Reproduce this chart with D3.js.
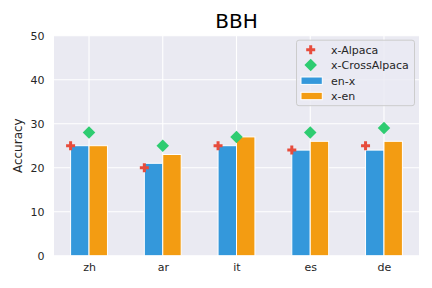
<!DOCTYPE html>
<html>
<head>
<meta charset="utf-8">
<script src="https://cdn.jsdelivr.net/npm/d3@7"></script>
<style>
  body { margin: 0; background: #fff; }
  text { font-family: "DejaVu Sans", sans-serif; fill: #262626; }
  .axis path, .axis line { display: none; }
</style>
</head>
<body>
<div id="chart"></div>
<script>
// data
var categories = ["zh", "ar", "it", "es", "de"];
var enX = [25, 21, 25, 24, 24];
var xEn = [25, 23, 27, 26, 26];
var xAlpaca = [25, 20, 25, 24, 25];
var xCrossAlpaca = [28, 25, 27, 28, 29];
var yTicks = [0, 10, 20, 30, 40, 50];

var width = 432, height = 288;
// note: "top" is a reserved window global, so use plot* names
var plotLeft = 54, plotRight = 419, plotTop = 35.7, plotBottom = 255.7;
var barW = 0.25;

var svg = d3.select("#chart").append("svg")
    .attr("width", width)
    .attr("height", height);

var x = d3.scaleLinear().domain([-0.475, 4.475]).range([plotLeft, plotRight]);
var y = d3.scaleLinear().domain([0, 50]).range([plotBottom, plotTop]);

svg.append("rect")
    .attr("x", plotLeft).attr("y", plotTop)
    .attr("width", plotRight - plotLeft).attr("height", plotBottom - plotTop)
    .attr("fill", "#eaeaf2");

// grid
svg.selectAll(".hgrid")
    .data(yTicks)
  .enter().append("line")
    .attr("x1", plotLeft).attr("x2", plotRight)
    .attr("y1", function(d) { return y(d); })
    .attr("y2", function(d) { return y(d); })
    .attr("stroke", "#fff").attr("stroke-width", 1.1);
svg.selectAll(".vgrid")
    .data(categories)
  .enter().append("line")
    .attr("x1", function(d, i) { return x(i); })
    .attr("x2", function(d, i) { return x(i); })
    .attr("y1", plotTop).attr("y2", plotBottom)
    .attr("stroke", "#fff").attr("stroke-width", 1.1);

// bars
function bars(vals, offset, color) {
  svg.append("g").selectAll("rect")
      .data(vals)
    .enter().append("rect")
      .attr("x", function(d, i) { return x(i + offset); })
      .attr("y", function(d) { return y(d); })
      .attr("width", x(barW) - x(0))
      .attr("height", function(d) { return y(0) - y(d); })
      .attr("fill", color)
      .attr("stroke", "#fff").attr("stroke-width", 1);
}
bars(enX, -barW, "#3498db");
bars(xEn, 0, "#f39c12");

// markers
var plus = d3.symbol().type(d3.symbolCross).size(45);
var diamond = d3.symbol().type(d3.symbolSquare).size(78);
svg.append("g").selectAll("path")
    .data(xAlpaca)
  .enter().append("path")
    .attr("d", plus)
    .attr("transform", function(d, i) { return "translate(" + x(i - barW) + "," + y(d) + ")"; })
    .attr("fill", "#e74c3c");
svg.append("g").selectAll("path")
    .data(xCrossAlpaca)
  .enter().append("path")
    .attr("d", diamond)
    .attr("transform", function(d, i) { return "translate(" + x(i) + "," + y(d) + ") rotate(45)"; })
    .attr("fill", "#2ecc71");

// axes
var xAxis = d3.axisBottom(x)
    .tickValues(d3.range(categories.length))
    .tickFormat(function(i) { return categories[i]; })
    .tickSize(0).tickPadding(7.5);
svg.append("g")
    .attr("class", "axis")
    .attr("transform", "translate(0," + plotBottom + ")")
    .call(xAxis)
    .selectAll("text").style("font-size", "11px").attr("fill", "#262626");

var yAxis = d3.axisLeft(y).tickValues(yTicks).tickSize(0).tickPadding(9.5);
svg.append("g")
    .attr("class", "axis")
    .attr("transform", "translate(" + plotLeft + ",0)")
    .call(yAxis)
    .selectAll("text").style("font-size", "11px").attr("fill", "#262626");

svg.selectAll(".axis text").style("font-family", "DejaVu Sans");

// labels
svg.append("text")
    .attr("x", (plotLeft + plotRight) / 2).attr("y", 28.3)
    .attr("text-anchor", "middle")
    .style("font-size", "20px")
    .style("fill", "#000")
    .text("BBH");
svg.append("text")
    .attr("transform", "translate(22," + (plotTop + plotBottom) / 2 + ") rotate(-90)")
    .attr("text-anchor", "middle")
    .style("font-size", "12px")
    .text("Accuracy");

// legend
var lg = svg.append("g").attr("transform", "translate(296.5,40.2)");
lg.append("rect")
    .attr("width", 118).attr("height", 65.5)
    .attr("rx", 2.5)
    .attr("fill", "#eaeaf2").attr("fill-opacity", 0.8)
    .attr("stroke", "#cccccc").attr("stroke-width", 1);
var rows = [9.5, 24.8, 40.5, 55.8];
lg.append("path").attr("d", plus)
    .attr("transform", "translate(14.2," + rows[0] + ")").attr("fill", "#e74c3c");
lg.append("path").attr("d", diamond)
    .attr("transform", "translate(14.2," + rows[1] + ") rotate(45)").attr("fill", "#2ecc71");
lg.append("rect").attr("x", 4.5).attr("y", rows[2] - 3.7).attr("width", 21.3).attr("height", 7.4)
    .attr("fill", "#3498db").attr("stroke", "#fff").attr("stroke-width", 1);
lg.append("rect").attr("x", 4.5).attr("y", rows[3] - 3.7).attr("width", 21.3).attr("height", 7.4)
    .attr("fill", "#f39c12").attr("stroke", "#fff").attr("stroke-width", 1);
var names = ["x-Alpaca", "x-CrossAlpaca", "en-x", "x-en"];
lg.selectAll(".lt")
    .data(names)
  .enter().append("text")
    .attr("x", 34.5)
    .attr("y", function(d, i) { return rows[i]; })
    .attr("dy", "0.35em")
    .style("font-size", "11px")
    .text(function(d) { return d; });
</script>
</body>
</html>
